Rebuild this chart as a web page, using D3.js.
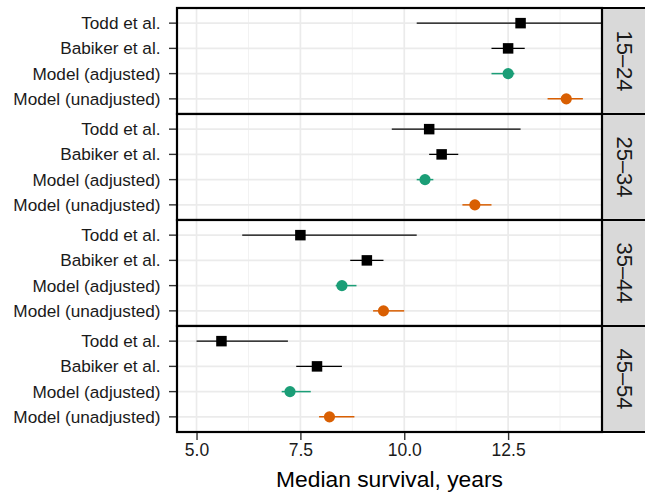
<!DOCTYPE html>
<html>
<head>
<meta charset="utf-8">
<script src="https://cdn.jsdelivr.net/npm/d3@7/dist/d3.min.js"></script>
<style>
  html, body { margin: 0; padding: 0; background: #fff; }
  svg { display: block; font-family: "Liberation Sans", Arial, sans-serif; }
</style>
</head>
<body>
<svg id="chart" width="645" height="493"></svg>
<script>
// Age groups (one facet row each) and estimate sources
const ageGroups = ["15–24", "25–34", "35–44", "45–54"];
const sources = ["Todd et al.", "Babiker et al.", "Model (adjusted)", "Model (unadjusted)"];

// Median survival (years) with interval bounds, per age group, in the order of `sources`
const toddMedian  = [12.8, 10.6, 7.5, 5.6];
const toddLower   = [10.3, 9.7, 6.1, 5.0];
const toddUpper   = [15.2, 12.8, 10.3, 7.2];

const babikerMedian = [12.5, 10.9, 9.1, 7.9];
const babikerLower  = [12.1, 10.6, 8.7, 7.4];
const babikerUpper  = [12.9, 11.3, 9.5, 8.5];

const adjMedian = [12.5, 10.5, 8.5, 7.25];
const adjLower  = [12.1, 10.3, 8.35, 7.05];
const adjUpper  = [12.65, 10.7, 8.85, 7.75];

const unadjMedian = [13.9, 11.7, 9.5, 8.2];
const unadjLower  = [13.45, 11.4, 9.25, 7.95];
const unadjUpper  = [14.3, 12.1, 10.0, 8.8];

const xTicks = [5.0, 7.5, 10.0, 12.5];
const xMinorTicks = [6.25, 8.75, 11.25, 13.75];
const xDomain = [4.53, 14.76];

const sourceStyle = {
  "Todd et al.":        { color: "#000000", shape: "square" },
  "Babiker et al.":     { color: "#000000", shape: "square" },
  "Model (adjusted)":   { color: "#1b9e77", shape: "circle" },
  "Model (unadjusted)": { color: "#d95f02", shape: "circle" }
};

const seriesBySource = {
  "Todd et al.":        [toddMedian, toddLower, toddUpper],
  "Babiker et al.":     [babikerMedian, babikerLower, babikerUpper],
  "Model (adjusted)":   [adjMedian, adjLower, adjUpper],
  "Model (unadjusted)": [unadjMedian, unadjLower, unadjUpper]
};

const rows = [];
ageGroups.forEach((g, gi) => {
  sources.forEach(s => {
    const [m, lo, hi] = seriesBySource[s];
    rows.push({ group: g, source: s, median: m[gi], lower: lo[gi], upper: hi[gi] });
  });
});

// Layout
const panelLeft = 177, panelRight = 602;
const panelTop = 8, panelH = 106;
const stripW = 46;

const svg = d3.select("#chart");

const x = d3.scaleLinear().domain(xDomain).range([panelLeft, panelRight]);
const fy = d3.scaleBand().domain(ageGroups).range([panelTop, panelTop + panelH * ageGroups.length]).padding(0);

svg.append("defs").append("clipPath").attr("id", "panelClip")
  .append("rect").attr("x", panelLeft).attr("y", 0)
  .attr("width", panelRight - panelLeft).attr("height", 493);

ageGroups.forEach(g => {
  const top = fy(g);
  const y = d3.scalePoint().domain(sources).range([top, top + panelH]).padding(0.6);
  const panel = svg.append("g");

  // background + grid
  panel.append("rect").attr("x", panelLeft).attr("y", top)
    .attr("width", panelRight - panelLeft).attr("height", panelH).attr("fill", "#fff");

  panel.selectAll("line.minor").data(xMinorTicks).join("line")
    .attr("x1", d => x(d)).attr("x2", d => x(d))
    .attr("y1", top).attr("y2", top + panelH)
    .attr("stroke", "#f0f0f0").attr("stroke-width", 0.9);

  panel.selectAll("line.majorx").data(xTicks).join("line")
    .attr("x1", d => x(d)).attr("x2", d => x(d))
    .attr("y1", top).attr("y2", top + panelH)
    .attr("stroke", "#ebebeb").attr("stroke-width", 1.7);

  panel.selectAll("line.majory").data(sources).join("line")
    .attr("x1", panelLeft).attr("x2", panelRight)
    .attr("y1", d => y(d)).attr("y2", d => y(d))
    .attr("stroke", "#ebebeb").attr("stroke-width", 1.7);

  const data = rows.filter(r => r.group === g);
  const marks = panel.append("g").attr("clip-path", "url(#panelClip)");

  // interval lines
  marks.selectAll("line.err").data(data).join("line")
    .attr("x1", d => x(d.lower)).attr("x2", d => x(d.upper))
    .attr("y1", d => y(d.source)).attr("y2", d => y(d.source))
    .attr("stroke", d => sourceStyle[d.source].color)
    .attr("stroke-width", d => sourceStyle[d.source].shape === "square" ? 1.3 : 1.5);

  // point estimates
  const sq = 10.5;
  marks.selectAll("rect.pt").data(data.filter(d => sourceStyle[d.source].shape === "square")).join("rect")
    .attr("x", d => x(d.median) - sq / 2).attr("y", d => y(d.source) - sq / 2)
    .attr("width", sq).attr("height", sq)
    .attr("fill", d => sourceStyle[d.source].color);

  marks.selectAll("circle.pt").data(data.filter(d => sourceStyle[d.source].shape === "circle")).join("circle")
    .attr("cx", d => x(d.median)).attr("cy", d => y(d.source)).attr("r", 5.6)
    .attr("fill", d => sourceStyle[d.source].color);

  // y axis labels and ticks
  panel.selectAll("line.ytick").data(sources).join("line")
    .attr("x1", panelLeft - 8).attr("x2", panelLeft)
    .attr("y1", d => y(d)).attr("y2", d => y(d))
    .attr("stroke", "#333").attr("stroke-width", 1.4);

  panel.selectAll("text.ylab").data(sources).join("text")
    .attr("x", panelLeft - 16.5).attr("y", d => y(d))
    .attr("dy", "0.35em")
    .attr("text-anchor", "end")
    .attr("font-size", 17.2)
    .attr("fill", "#1a1a1a")
    .text(d => d);

  // strip on the right
  panel.append("rect").attr("x", panelRight).attr("y", top)
    .attr("width", stripW).attr("height", panelH)
    .attr("fill", "#d9d9d9").attr("stroke", "#000").attr("stroke-width", 2);

  panel.append("text")
    .attr("transform", `translate(${panelRight + 23},${top + panelH / 2}) rotate(90)`)
    .attr("text-anchor", "middle").attr("dy", "0.35em")
    .attr("font-size", 22).attr("fill", "#1a1a1a")
    .text(g);

  // panel border
  panel.append("rect").attr("x", panelLeft).attr("y", top)
    .attr("width", panelRight - panelLeft).attr("height", panelH)
    .attr("fill", "none").attr("stroke", "#000").attr("stroke-width", 2.2);
});

// x axis
const bottom = panelTop + panelH * ageGroups.length;
const xAxis = svg.append("g").attr("transform", `translate(0,${bottom + 1})`)
  .call(d3.axisBottom(x).tickValues(xTicks).tickFormat(d3.format(".1f")).tickSize(7).tickPadding(4));
xAxis.select(".domain").remove();
xAxis.selectAll(".tick line").attr("stroke", "#333").attr("stroke-width", 1.4);
xAxis.selectAll(".tick text")
  .attr("font-size", 17.5).attr("fill", "#1a1a1a")
  .attr("font-family", "Liberation Sans, Arial, sans-serif");

svg.append("text")
  .attr("x", (panelLeft + panelRight) / 2).attr("y", 487)
  .attr("text-anchor", "middle")
  .attr("font-size", 22.8).attr("fill", "#000")
  .text("Median survival, years");
</script>
</body>
</html>
